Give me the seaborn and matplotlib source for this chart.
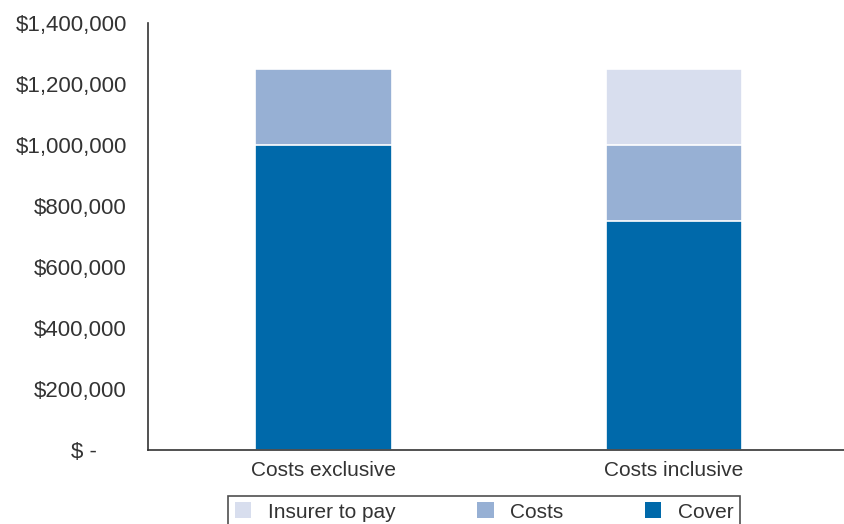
import numpy as np
import pandas as pd
import seaborn as sns
from matplotlib import pyplot as plt
from matplotlib.patches import Patch

# values
categories = ["Costs exclusive", "Costs inclusive"]
cover = [1000000, 750000]
costs = [250000, 250000]
insurer_to_pay = [0, 250000]

ytick_values = [0, 200000, 400000, 600000, 800000, 1000000, 1200000, 1400000]
ytick_labels = ["$ -     ", "$200,000", "$400,000", "$600,000", "$800,000",
                "$1,000,000", "$1,200,000", "$1,400,000"]

colors = {"Insurer to pay": "#d8deee", "Costs": "#97b0d4", "Cover": "#0069aa"}

df = pd.DataFrame({"Category": categories, "Cover": cover,
                   "Costs": costs, "Insurer to pay": insurer_to_pay})
df["CoverCosts"] = df["Cover"] + df["Costs"]
df["Total"] = df["CoverCosts"] + df["Insurer to pay"]

sns.set_style("white")
plt.rcParams['font.family'] = ['Liberation Sans', 'DejaVu Sans']

fig = plt.figure(figsize=(8.45, 5.24), dpi=100)
ax = fig.add_axes([0.175, 0.141, 0.83, 0.815])

# stacked look: draw totals first, then smaller segments on top
for col, key in [("Total", "Insurer to pay"), ("CoverCosts", "Costs"), ("Cover", "Cover")]:
    sns.barplot(data=df, x="Category", y=col, ax=ax, color=colors[key],
                width=0.39, saturation=1, edgecolor="white", linewidth=1.2)

ax.set_xlim(-0.5, 1.5)
ax.set_ylim(0, 1400000)
ax.set_yticks(ytick_values)
ax.set_yticklabels(ytick_labels)
ax.set_xlabel("")
ax.set_ylabel("")
ax.tick_params(axis='both', length=0, labelsize=15, colors='#333333')
ax.tick_params(axis='y', labelsize=16, pad=15)
ax.tick_params(axis='x', pad=8)

sns.despine(ax=ax)
for side in ['left', 'bottom']:
    ax.spines[side].set_color('#333333')
    ax.spines[side].set_linewidth(1.2)

handles = [Patch(facecolor=colors[k], edgecolor='none') for k in ["Insurer to pay", "Costs", "Cover"]]
leg = fig.legend(handles=handles, labels=["Insurer to pay", "Costs", "Cover"],
                 loc='upper center', bbox_to_anchor=(0.573, 0.073), ncol=3,
                 fontsize=15, frameon=True, fancybox=False, edgecolor='#222222',
                 handlelength=0.8, handleheight=0.8, handletextpad=0.8,
                 columnspacing=3.9, borderpad=0.3)
leg.get_frame().set_linewidth(1.2)
for t in leg.get_texts():
    t.set_color('#333333')

fig.savefig("out.png", dpi=100)
